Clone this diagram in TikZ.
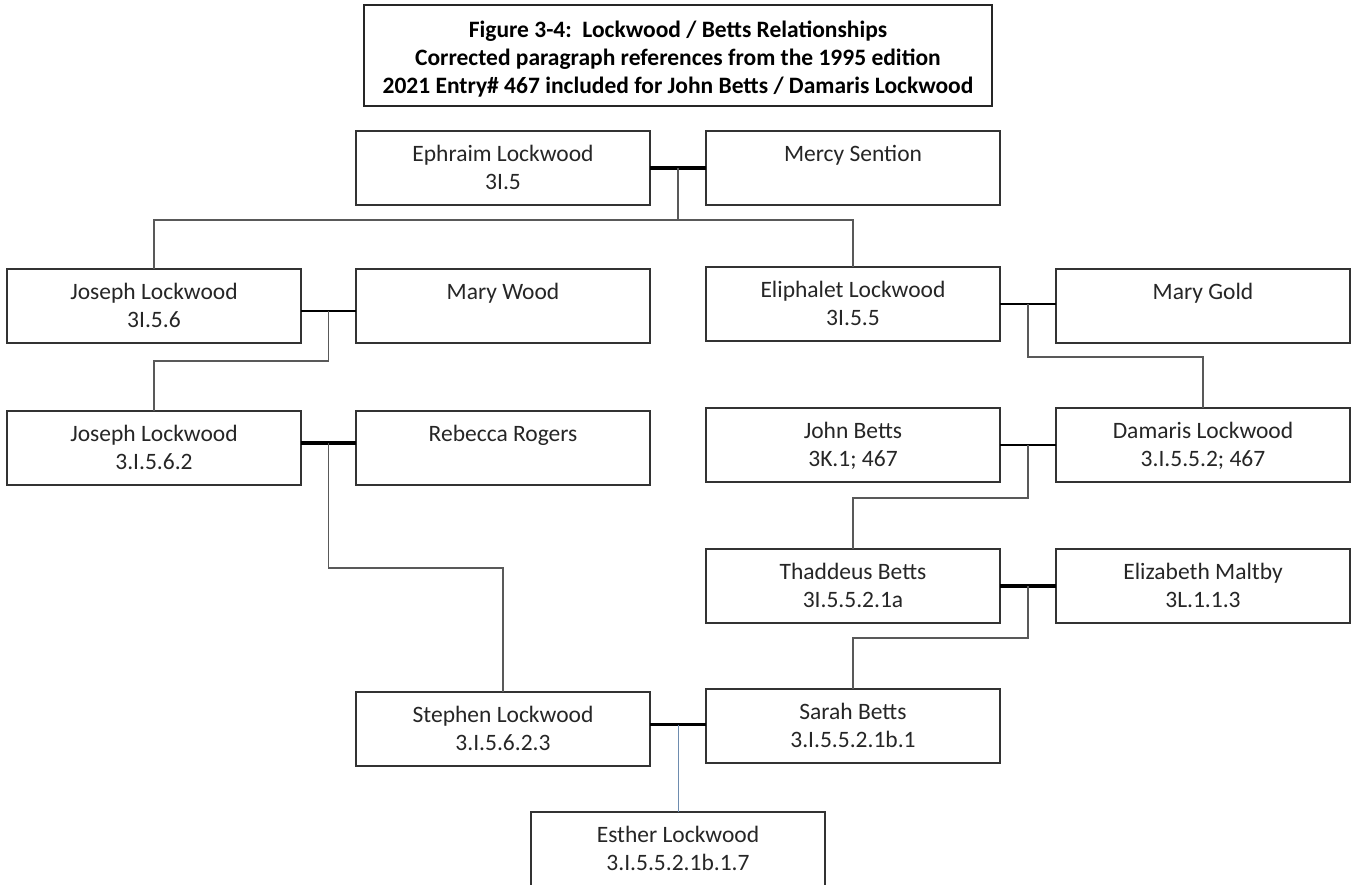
\documentclass[tikz,border=0pt]{standalone}
\usepackage{fontspec}
\setmainfont{Carlito}
\usetikzlibrary{calc}
\newcommand\boxtext[1]{\parbox[c][74pt][t]{294pt}{\centering\fontsize{23.5}{28}\selectfont\rule{0pt}{30pt}#1\par}}
\newcommand\titletext[1]{\parbox[c][101pt][t]{628pt}{\centering\bfseries\fontsize{23.5}{28}\selectfont\rule{0pt}{32pt}#1\par}}
\tikzset{
  person/.style={draw=black!80, line width=1.5pt, inner sep=0pt, outer sep=0pt, anchor=north west, text=black!85},
  titlebox/.style={draw=black!85, line width=1.5pt, inner sep=0pt, outer sep=0pt, anchor=north west, text=black},
  marriage/.style={draw=black, line width=3.4pt},
  marriagethin/.style={draw=black, line width=2.5pt},
  child/.style={draw=black!65, line width=1.3pt},
  childblue/.style={draw={rgb,255:red,110;green,140;blue,175}, line width=1pt}
}
\begin{document}
\begin{tikzpicture}[x=1pt,y=1pt]
\useasboundingbox (0,0) rectangle (1352,-884);
\clip (0,0) rectangle (1352,-884);
\fill[white] (0,0) rectangle (1352,-884);

\node[titlebox] (title) at (364,-5) {\titletext{Figure 3-4:\ \ Lockwood / Betts Relationships\\Corrected paragraph references from the 1995 edition\\2021 Entry\# 467 included for John Betts / Damaris Lockwood}};

\node[person] (ephraim) at (356,-131) {\boxtext{Ephraim Lockwood\\3I.5}};
\node[person] (mercy) at (706,-131) {\boxtext{Mercy Sention}};

\node[person] (joseph) at (7,-269) {\boxtext{Joseph Lockwood\\3I.5.6}};
\node[person] (marywood) at (356,-269) {\boxtext{Mary Wood}};
\node[person] (eliphalet) at (706,-267) {\boxtext{Eliphalet Lockwood\\3I.5.5}};
\node[person] (marygold) at (1056,-269) {\boxtext{Mary Gold}};

\node[person] (josephb) at (7,-411) {\boxtext{Joseph Lockwood\\3.I.5.6.2}};
\node[person] (rebecca) at (356,-411) {\boxtext{Rebecca Rogers}};
\node[person] (john) at (706,-408) {\boxtext{John Betts\\3K.1; 467}};
\node[person] (damaris) at (1056,-408) {\boxtext{Damaris Lockwood\\3.I.5.5.2; 467}};

\node[person] (thaddeus) at (706,-549) {\boxtext{Thaddeus Betts\\3I.5.5.2.1a}};
\node[person] (elizabeth) at (1056,-549) {\boxtext{Elizabeth Maltby\\3L.1.1.3}};

\node[person] (stephen) at (356,-692) {\boxtext{Stephen Lockwood\\3.I.5.6.2.3}};
\node[person] (sarah) at (706,-689) {\boxtext{Sarah Betts\\3.I.5.5.2.1b.1}};

\node[person] (esther) at (531,-812) {\boxtext{Esther Lockwood\\3.I.5.5.2.1b.1.7}};

% marriages
\draw[marriage] (ephraim.east) -- (mercy.west);
\coordinate (m1) at ($(ephraim.east)!0.5!(mercy.west)$);
\draw[marriagethin] ([yshift=-5pt]joseph.east) -- ([yshift=-5pt]marywood.west);
\coordinate (m2) at ($([yshift=-5pt]joseph.east)!0.5!([yshift=-5pt]marywood.west)$);
\draw[marriagethin] (eliphalet.east) -- (eliphalet.east -| marygold.west);
\coordinate (m3) at ($(eliphalet.east)!0.5!(eliphalet.east -| marygold.west)$);
\draw[marriage] ([yshift=5pt]josephb.east) -- ([yshift=5pt]rebecca.west);
\coordinate (m4) at ($([yshift=5pt]josephb.east)!0.5!([yshift=5pt]rebecca.west)$);
\draw[marriagethin] (john.east) -- (damaris.west);
\coordinate (m5) at ($(john.east)!0.5!(damaris.west)$);
\draw[marriage] (thaddeus.east) -- (elizabeth.west);
\coordinate (m6) at ($(thaddeus.east)!0.5!(elizabeth.west)$);
\draw[marriage] ([yshift=4.5pt]stephen.east) -- ([yshift=4.5pt]stephen.east -| sarah.west);
\coordinate (m7) at ($([yshift=4.5pt]stephen.east)!0.5!([yshift=4.5pt]stephen.east -| sarah.west)$);

% children
\draw[child] (m1) |- ([yshift=49pt]joseph.north) -- (joseph.north);
\draw[child] (m1) |- ([yshift=47pt]eliphalet.north) -- (eliphalet.north);
\draw[child] (m2) |- ([yshift=50pt]josephb.north) -- (josephb.north);
\draw[child] (m3) |- ([yshift=51pt]damaris.north) -- (damaris.north);
\draw[child] (m4) |- ([yshift=124pt]stephen.north) -- (stephen.north);
\draw[child] (m5) |- ([yshift=51pt]thaddeus.north) -- (thaddeus.north);
\draw[child] (m6) |- ([yshift=51pt]sarah.north) -- (sarah.north);
\draw[childblue] (m7) -- (m7 |- esther.north);
\end{tikzpicture}
\end{document}
